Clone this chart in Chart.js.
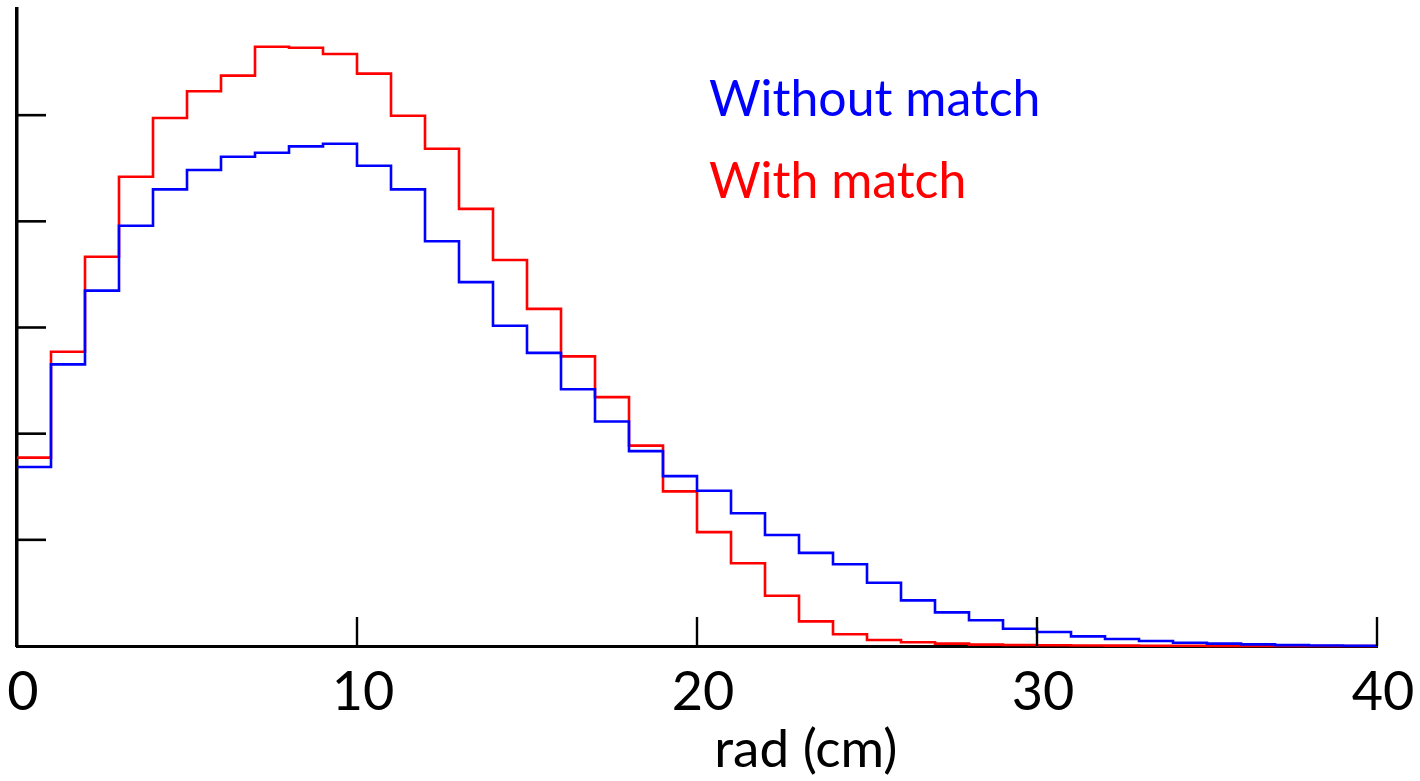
<!DOCTYPE html>
<html>
<head>
<meta charset="utf-8">
<title>rad (cm)</title>
<script src="https://cdn.jsdelivr.net/npm/chart.js@4.4.1/dist/chart.umd.min.js"></script>
<style>
  html, body { margin: 0; padding: 0; background: #ffffff; }
  #wrap { width: 1420px; height: 781px; position: relative; }
</style>
</head>
<body>
<div id="wrap"><canvas id="radChart"></canvas></div>
<script>
// bin lower edges (cm), bin width 1 cm
const radBins = [0, 1, 2, 3, 4, 5, 6, 7, 8, 9, 10, 11, 12, 13, 14, 15, 16, 17, 18, 19,
                 20, 21, 22, 23, 24, 25, 26, 27, 28, 29, 30, 31, 32, 33, 34, 35, 36, 37, 38, 39];
const binWidth = 1;

// histogram contents (arbitrary units)
const withoutMatch = [1.686, 2.653, 3.347, 3.959, 4.301, 4.483, 4.609, 4.646, 4.706, 4.731,
                      4.524, 4.301, 3.812, 3.427, 3.017, 2.761, 2.418, 2.115, 1.836, 1.600,
                      1.463, 1.251, 1.046, 0.877, 0.770, 0.596, 0.430, 0.317, 0.242, 0.163,
                      0.132, 0.091, 0.066, 0.047, 0.031, 0.022, 0.015, 0.008, 0.005, 0.002];
const withMatch = [1.774, 2.772, 3.667, 4.420, 4.973, 5.225, 5.372, 5.645, 5.635, 5.576,
                   5.391, 4.995, 4.684, 4.117, 3.636, 3.175, 2.728, 2.344, 1.887, 1.456,
                   1.073, 0.780, 0.474, 0.232, 0.110, 0.057, 0.035, 0.022, 0.013, 0.010,
                   0.007, 0.005, 0.004, 0.003, 0.002, 0.001, 0, 0, 0, 0];

const xTicks = [0, 10, 20, 30, 40];
const yTicks = [1, 2, 3, 4, 5];

const FONT = "Lato, 'DejaVu Sans', sans-serif";

// step outline: one point per bin start, plus the closing edge of the last bin
function histPoints(values) {
    const pts = radBins.map((x, i) => ({ x: x, y: values[i] }));
    const last = radBins.length - 1;
    pts.push({ x: radBins[last] + binWidth, y: values[last] });
    return pts;
}

// ticks pointing into the plot, axis title and the coloured labels
const decorations = {
    id: 'decorations',
    afterDraw(chart) {
        const { ctx, chartArea, scales } = chart;
        const xs = scales.x, ys = scales.y;
        ctx.save();
        ctx.strokeStyle = '#000000';

        ctx.lineWidth = 2.6;
        yTicks.forEach(v => {
            const y = ys.getPixelForValue(v);
            ctx.beginPath();
            ctx.moveTo(chartArea.left, y);
            ctx.lineTo(chartArea.left + 29, y);
            ctx.stroke();
        });
        ctx.lineWidth = 2.4;
        xTicks.slice(1).forEach(v => {
            const x = xs.getPixelForValue(v);
            ctx.beginPath();
            ctx.moveTo(x, chartArea.bottom);
            ctx.lineTo(x, chartArea.bottom - 29);
            ctx.stroke();
        });

        ctx.textBaseline = 'alphabetic';
        ctx.textAlign = 'center';
        ctx.fillStyle = '#000000';
        ctx.font = '53px ' + FONT;
        ctx.fillText('rad (cm)', xs.getPixelForValue(23.2), 767);

        ctx.font = '50px ' + FONT;
        ctx.textAlign = 'left';
        ctx.fillStyle = '#0000ff';
        ctx.fillText('Without match', xs.getPixelForValue(20.35), 116);
        ctx.fillStyle = '#ff0000';
        ctx.fillText('With match', xs.getPixelForValue(20.35), 198);
        ctx.restore();
    }
};

new Chart(document.getElementById('radChart'), {
    type: 'line',
    data: {
        datasets: [{
            label: 'Without match',
            data: histPoints(withoutMatch),
            borderColor: '#0000ff',
            borderWidth: 2.6,
            stepped: 'before',
            pointRadius: 0,
            fill: false,
            order: 0
        }, {
            label: 'With match',
            data: histPoints(withMatch),
            borderColor: '#ff0000',
            borderWidth: 2.6,
            stepped: 'before',
            pointRadius: 0,
            fill: false,
            order: 1
        }]
    },
    options: {
        responsive: true,
        maintainAspectRatio: false,
        devicePixelRatio: 1,
        animation: false,
        clip: false,
        layout: {
            padding: { left: 17, top: 9, right: 43, bottom: 0 }
        },
        plugins: {
            legend: { display: false },
            tooltip: { enabled: false }
        },
        scales: {
            x: {
                type: 'linear',
                min: 0,
                max: 40,
                afterBuildTicks: scale => {
                    scale.ticks = xTicks.map(v => ({ value: v }));
                },
                afterFit: scale => {
                    scale.height = 135;
                    scale.paddingLeft = 0;
                    scale.paddingRight = 0;
                },
                grid: { display: false, drawTicks: false },
                border: { display: true, color: '#000000', width: 3 },
                ticks: {
                    color: '#000000',
                    font: { family: FONT, size: 54 },
                    padding: 14,
                    maxRotation: 0,
                    labelOffset: 6
                }
            },
            y: {
                type: 'linear',
                min: 0,
                max: 6,
                afterFit: scale => { scale.width = 0; },
                grid: { display: false, drawTicks: false },
                border: { display: true, color: '#000000', width: 3.5 },
                ticks: { display: false }
            }
        }
    },
    plugins: [decorations]
});
</script>
</body>
</html>
